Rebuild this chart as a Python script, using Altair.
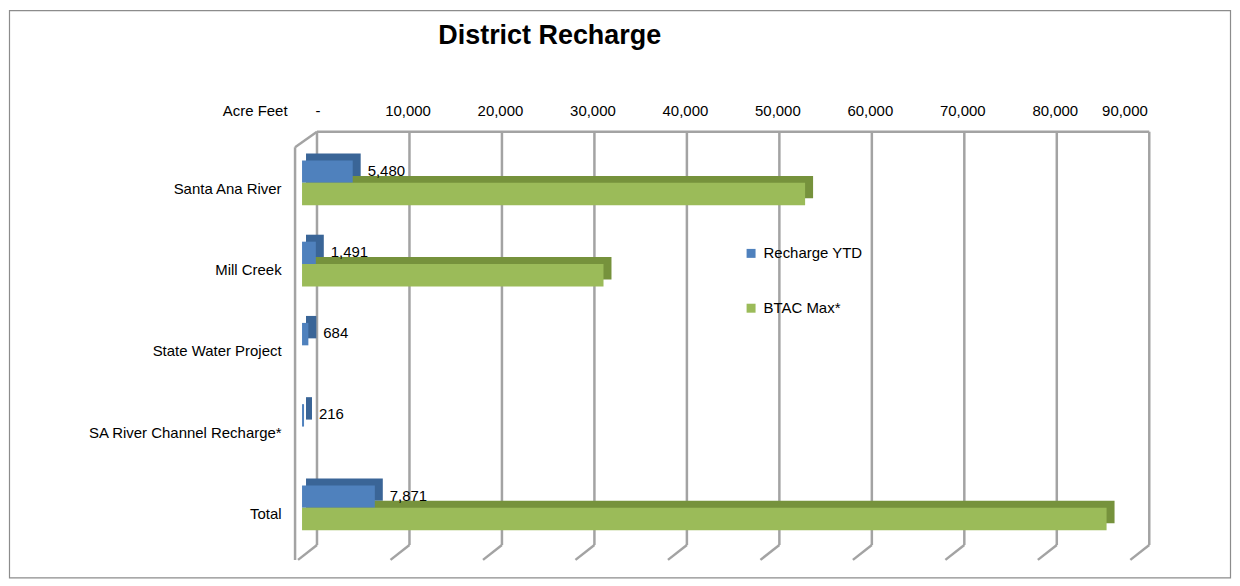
import altair as alt
import pandas as pd

categories = ["Santa Ana River", "Mill Creek", "State Water Project",
              "SA River Channel Recharge*", "Total"]
recharge_ytd = [5480, 1491, 684, 216, 7871]
btac_max = [54400, 32600, None, None, 87000]
series_names = ["Recharge YTD", "BTAC Max*"]
tick_values = [0, 10000, 20000, 30000, 40000, 50000, 60000, 70000, 80000, 90000]
front_colors = ["#4F81BD", "#9BBB59"]
shade_colors = ["#3A6597", "#76923C"]

rows = []
for cat, r, b in zip(categories, recharge_ytd, btac_max):
    rows.append({"category": cat, "series": series_names[0], "value": r})
    if b is not None:
        rows.append({"category": cat, "series": series_names[1], "value": b})
df = pd.DataFrame(rows)
grid_df = pd.DataFrame({"v": tick_values})
edge_df = pd.DataFrame({"start": [tick_values[0]], "end": [tick_values[-1]]})

W, H = 835, 407.5
DEPTH = 7
FONT = "Liberation Sans"
GRID = "#A3A3A3"

xscale = alt.Scale(domain=[tick_values[0], tick_values[-1]], nice=False, zero=True)
yscale = alt.Scale(domain=categories, paddingInner=0.448, paddingOuter=0.224)
yscale_back = alt.Scale(domain=categories, paddingInner=0.448, paddingOuter=0.224,
                        range=[-DEPTH, H - DEPTH])
yoff_scale = alt.Scale(domain=series_names)

frame = alt.Chart(edge_df).mark_rect(fillOpacity=0, stroke="#8C8C8C", strokeWidth=1.2).encode(
    x=alt.value(-293.5), x2=alt.value(931.5), y=alt.value(-132), y2=alt.value(437)
)

grid = alt.Chart(grid_df).mark_rule(color=GRID, strokeWidth=2.5, xOffset=15).encode(
    x=alt.X("v:Q", scale=xscale,
            axis=alt.Axis(orient="top", values=tick_values, title="Acre Feet",
                          labelExpr="datum.value == 0 ? '-' : format(datum.value, ',')",
                          grid=False, ticks=False, tickSize=0, domain=False,
                          labelPadding=0, offset=24, labelOffset=13,
                          labelFontSize=15, labelColor="#000000",
                          titleFontSize=15, titleFontWeight="normal", titleColor="#000000",
                          titleX=-15, titleY=0, titleAlign="right",
                          titleBaseline="bottom", titleAngle=0)),
    y=alt.value(-10.5), y2=alt.value(404)
)

floor = alt.Chart(grid_df).mark_rule(color=GRID, strokeWidth=2.5, xOffset=15, x2Offset=-4).encode(
    x=alt.X("v:Q", scale=xscale), x2="v:Q",
    y=alt.value(404), y2=alt.value(419)
)

top_edge = alt.Chart(edge_df).mark_rule(color=GRID, strokeWidth=2.5, xOffset=15, x2Offset=15).encode(
    x=alt.X("start:Q", scale=xscale), x2="end:Q", y=alt.value(-10.5)
)

wall = alt.Chart(edge_df).mark_rule(color=GRID, strokeWidth=2.5, xOffset=-7, x2Offset=-7).encode(
    x=alt.X("start:Q", scale=xscale), x2="start:Q", y=alt.value(5), y2=alt.value(419)
)

wall_top = alt.Chart(edge_df).mark_rule(color=GRID, strokeWidth=2.5, xOffset=-7, x2Offset=15).encode(
    x=alt.X("start:Q", scale=xscale), x2="start:Q", y=alt.value(5), y2=alt.value(-10.5)
)

y_axis = alt.Axis(title=None, ticks=False, tickSize=0, domain=False, grid=False,
                  labelPadding=21, labelOffset=6, labelFontSize=15,
                  labelColor="#000000", labelLimit=0)

shadow = alt.Chart(df).transform_calculate(base="0").mark_bar(xOffset=8, x2Offset=4).encode(
    x=alt.X("value:Q", scale=xscale),
    x2=alt.X2("base:Q"),
    y=alt.Y("category:N", scale=yscale_back, sort=categories, axis=None),
    yOffset=alt.YOffset("series:N", scale=yoff_scale),
    color=alt.Color("series:N", scale=alt.Scale(domain=series_names, range=shade_colors),
                    legend=None),
)

front = alt.Chart(df).mark_bar().encode(
    x=alt.X("value:Q", scale=xscale),
    y=alt.Y("category:N", scale=yscale, sort=categories, axis=y_axis),
    yOffset=alt.YOffset("series:N", scale=yoff_scale),
    color=alt.Color("series:N", scale=alt.Scale(domain=series_names, range=front_colors),
                    legend=alt.Legend(orient="none", legendX=443, legendY=104,
                                      title=None, symbolType="square", symbolSize=81,
                                      symbolStrokeWidth=0, labelFontSize=15,
                                      labelColor="#000000", rowPadding=39,
                                      labelOffset=5, padding=0)),
)

labels = alt.Chart(df).transform_filter(
    alt.datum.series == series_names[0]
).mark_text(align="left", baseline="middle", dx=15, dy=-1, fontSize=15, color="#000000").encode(
    x=alt.X("value:Q", scale=xscale),
    y=alt.Y("category:N", scale=yscale, sort=categories, axis=None),
    yOffset=alt.YOffset("series:N", scale=yoff_scale),
    text=alt.Text("value:Q", format=","),
)

chart = alt.layer(frame, grid, floor, top_edge, wall, wall_top, shadow, front, labels).resolve_scale(
    color="independent", y="independent"
).properties(
    width=W, height=H,
    autosize=alt.AutoSizeParams(type="none"),
    padding={"left": 295, "top": 133.75, "right": 98, "bottom": 31.75},
    title=alt.TitleParams("District Recharge", fontSize=27, fontWeight="bold",
                          anchor="middle", frame="group", dx=-169, offset=-40,
                          color="#000000", font=FONT),
).configure(font=FONT).configure_view(stroke=None)

chart.save("out.html", embed_options={"renderer": "svg", "actions": False})
